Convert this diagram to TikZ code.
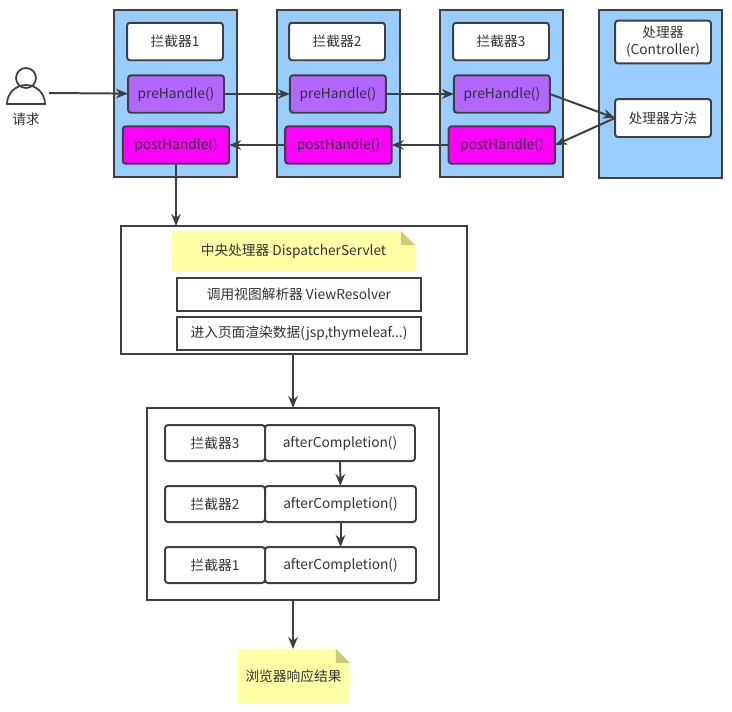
\documentclass[tikz,border=0pt]{standalone}
\usepackage{fontspec}
\setmainfont{Noto Sans CJK SC}
\usepackage{tikz}
\usetikzlibrary{arrows.meta,positioning,calc}
\definecolor{linegray}{HTML}{3F3F3F}
\definecolor{textgray}{HTML}{333333}
\definecolor{panelblue}{HTML}{99CCFF}
\definecolor{prepurple}{HTML}{B266FF}
\definecolor{postpink}{HTML}{FF00FF}
\definecolor{noteyellow}{HTML}{FFFFA6}
\definecolor{notefold}{HTML}{CCCC78}
\begin{document}
\begin{tikzpicture}[
    x=0.02cm,y=-0.02cm,
    line width=1.13pt,
    every node/.style={outer sep=0pt,text=textgray,font=\fontsize{7.8}{9.7}\selectfont},
    panel/.style={draw=linegray,fill=panelblue,minimum width=2.46cm,minimum height=3.34cm},
    outerbox/.style={draw=linegray,fill=white},
    titlebox/.style={draw=linegray,fill=white,rounded corners=0.06cm,minimum width=1.92cm,
                minimum height=0.75cm,align=center},
    prebox/.style={titlebox,fill=prepurple},
    postbox/.style={titlebox,fill=postpink,minimum width=2.13cm},
    stepbox/.style={draw=linegray,fill=white,minimum width=4.88cm,minimum height=0.66cm},
    namebox/.style={titlebox,minimum width=2cm,minimum height=0.72cm},
    afterbox/.style={titlebox,minimum width=3cm,minimum height=0.72cm},
    notebox/.style={fill=noteyellow,path picture={
        \fill[white] ($(path picture bounding box.north east)+(-0.28cm,0)$)
          -- (path picture bounding box.north east) -- ++(0,-0.28cm) -- cycle;
        \fill[notefold] ($(path picture bounding box.north east)+(-0.28cm,0)$)
          -- ++(0,-0.28cm) -- ++(0.28cm,0) -- cycle;}},
    link/.style={draw=linegray,-{Stealth[length=2.4mm,width=1.9mm]}}
  ]
    \useasboundingbox (0,0) rectangle (732,711);

    % request
    \draw[draw=linegray,line width=1pt] (26,78) circle (0.2cm);
    \draw[draw=linegray,line width=1pt] (7,104) arc[start angle=180,end angle=0,radius=0.38cm] -- cycle;
    \node (req) at (26,119) {请求};
    \coordinate (reqout) at (49,93);

    % three interceptors and the handler
    \node[panel] (panel1) at (175.5,93.5) {};
    \node[panel] (panel2) at (338.5,93.5) {};
    \node[panel] (panel3) at (501.5,93.5) {};
    \node[panel,minimum height=3.36cm] (panel4) at (660.5,94) {};

    \node[titlebox] (name1) at (175,41.5) {拦截器1};
    \node[titlebox] (name2) at (337,41.5) {拦截器2};
    \node[titlebox] (name3) at (501,41.5) {拦截器3};
    \node[titlebox,minimum height=0.76cm] (ctrl) at (663,42) {处理器\\(Controller)};
    \node[titlebox,minimum height=0.76cm] (method) at (663,118) {处理器方法};

    \node[prebox] (pre1) at (176,94) {preHandle()};
    \node[prebox,right=1.32cm of pre1] (pre2) {preHandle()};
    \node[prebox,right=1.36cm of pre2] (pre3) {preHandle()};
    \node[postbox] (post1) at (176,145) {postHandle()};
    \node[postbox,right=1.12cm of post1] (post2) {postHandle()};
    \node[postbox,right=1.14cm of post2] (post3) {postHandle()};

    % dispatcher
    \node[outerbox,minimum width=6.92cm,minimum height=2.56cm] (disp) at (294,290) {};
    \node[notebox,minimum width=4.86cm,minimum height=0.8cm] (dispnote) at (293.5,251)
          {中央处理器 DispatcherServlet};
    \node[stepbox] (resolver) at (299,294.5) {调用视图解析器 ViewResolver};
    \node[stepbox,below=0.12cm of resolver] (render) {进入页面渲染数据(jsp,thymeleaf...)};

    % after completion
    \node[outerbox,minimum width=5.84cm,minimum height=3.84cm] (after) at (293,504) {};
    \node[namebox] (last3) at (215,443) {拦截器3};
    \node[namebox] (last2) at (215,504) {拦截器2};
    \node[namebox] (last1) at (215,565) {拦截器1};
    \node[afterbox] (done3) at (340,443) {afterCompletion()};
    \node[afterbox,minimum width=3.02cm] (done2) at (340.5,504) {afterCompletion()};
    \node[afterbox,minimum width=3.02cm] (done1) at (340.5,565) {afterCompletion()};

    \node[notebox,minimum width=2.26cm,minimum height=1.08cm] (result) at (293.5,676)
          {浏览器响应结果};

    \draw[link] (reqout) -- (pre1);
    \draw[link] (pre1) -- (pre2);
    \draw[link] (pre2) -- (pre3);
    \draw[link] (pre3.east) -- (method.west);
    \draw[link] (method.west) -- (post3.east);
    \draw[link] (post3) -- (post2);
    \draw[link] (post2) -- (post1);
    \draw[link] (post1.south) -- (post1.south |- disp.north);
    \draw[link] (after.north |- disp.south) -- (after.north);
    \draw[link] (done3) -- (done2);
    \draw[link] (done2) -- (done1);
    \draw[link] (after.south) -- (after.south |- result.north);
  \end{tikzpicture}
\end{document}
